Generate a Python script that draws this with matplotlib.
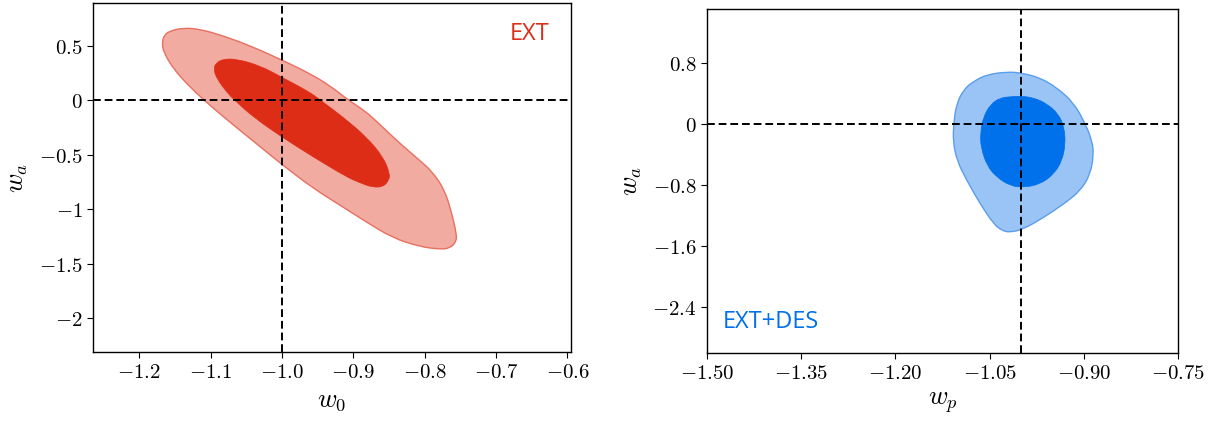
import matplotlib
matplotlib.use("Agg")
import numpy as np
import matplotlib.pyplot as plt
from matplotlib.path import Path
from matplotlib.patches import PathPatch
from matplotlib.ticker import FuncFormatter, FixedLocator

plt.rcParams['mathtext.fontset'] = 'cm'

# EXT contours (w0, wa)
ext_outer_w0 = [-1.1683, -1.1650, -1.1566, -1.1385, -1.1147, -1.0825, -1.0448, -1.0000, -0.9608,
                -0.9329, -0.9077, -0.8825, -0.8629, -0.8350, -0.8070, -0.7888, -0.7720, -0.7622,
                -0.7557, -0.7557, -0.7650, -0.7790, -0.8070, -0.8448, -0.8839, -0.9189, -0.9566,
                -1.0000, -1.0364, -1.0727, -1.1101, -1.1333, -1.1520, -1.1660]
ext_outer_wa = [0.528, 0.598, 0.635, 0.662, 0.650, 0.589, 0.498, 0.367, 0.242,
                0.132, 0.002, -0.105, -0.224, -0.397, -0.553, -0.662, -0.826, -1.037,
                -1.222, -1.299, -1.359, -1.368, -1.344, -1.265, -1.110, -0.963, -0.808,
                -0.592, -0.397, -0.205, 0.002, 0.148, 0.285, 0.437]
ext_inner_w0 = [-1.0961, -1.0923, -1.0821, -1.0634, -1.0308, -1.0000, -0.9608, -0.9469,
                -0.9143, -0.8815, -0.8583, -0.8490, -0.8503, -0.8583, -0.8741, -0.8909,
                -0.9095, -0.9562, -1.0000, -1.0401, -1.0671, -1.0773, -1.0913]
ext_inner_wa = [0.285, 0.342, 0.376, 0.376, 0.315, 0.208, 0.071, 0.002,
                -0.157, -0.340, -0.522, -0.674, -0.735, -0.796, -0.799, -0.758,
                -0.705, -0.522, -0.340, -0.157, 0.002, 0.071, 0.194]

# EXT+DES contours (wp, wa)
des_outer_wp = [-1.0913, -1.0754, -1.0541, -1.0223, -1.0000, -0.9692, -0.9427, -0.9161, -0.8976,
                -0.8869, -0.8843, -0.8896, -0.9055, -0.9321, -0.9639, -0.9958, -1.0170, -1.0303,
                -1.0435, -1.0648, -1.0860, -1.1019, -1.1083, -1.1072, -1.1030]
des_outer_wa = [0.448, 0.556, 0.643, 0.678, 0.665, 0.600, 0.469, 0.274, 0.000,
                -0.226, -0.400, -0.661, -0.878, -1.052, -1.226, -1.378, -1.421, -1.399,
                -1.312, -1.052, -0.748, -0.487, -0.226, 0.000, 0.252]
des_inner_wp = [-1.0329, -1.0170, -1.0000, -0.9798, -0.9586, -0.9400, -0.9310, -0.9294, -0.9347,
                -0.9480, -0.9692, -0.9958, -1.0170, -1.0382, -1.0541, -1.0637, -1.0648, -1.0605,
                -1.0488]
des_inner_wa = [0.339, 0.352, 0.361, 0.339, 0.261, 0.122, -0.052, -0.269, -0.487,
                -0.661, -0.791, -0.834, -0.813, -0.704, -0.552, -0.313, -0.139, 0.078,
                0.252]

left_xticks = [-1.2, -1.1, -1.0, -0.9, -0.8, -0.7, -0.6]
left_yticks = [0.5, 0, -0.5, -1, -1.5, -2]
right_xticks = [-1.50, -1.35, -1.20, -1.05, -0.90, -0.75]
right_yticks = [0.8, 0, -0.8, -1.6, -2.4]

red_dark = '#dd2d16'
red_light = '#f1aba1'
red_edge = '#e8705f'
blue_dark = '#0070eb'
blue_light = '#9ac4f6'
blue_edge = '#5a9eea'


def fmt(f):
    return FuncFormatter(lambda v, p: '$' + (f % v) + '$')


def smooth_patch(ax, xs, ys, **kw):
    # closed quadratic-bezier path using the read points as control points
    p = np.column_stack([xs, ys])
    mid = (p + np.roll(p, -1, axis=0)) / 2
    verts = [mid[-1]]
    codes = [Path.MOVETO]
    for i in range(len(p)):
        verts += [p[i], mid[i]]
        codes += [Path.CURVE3, Path.CURVE3]
    verts.append(mid[-1])
    codes.append(Path.CLOSEPOLY)
    ax.add_patch(PathPatch(Path(verts, codes), **kw))


fig = plt.figure(figsize=(12.22, 4.30), dpi=100)
ax1 = fig.add_axes([0.0761, 0.1814, 0.3912, 0.8116])
ax2 = fig.add_axes([0.5786, 0.1790, 0.3854, 0.8000])

smooth_patch(ax1, ext_outer_w0, ext_outer_wa, facecolor=red_light, edgecolor=red_edge, lw=1.0, zorder=1)
smooth_patch(ax1, ext_inner_w0, ext_inner_wa, facecolor=red_dark, edgecolor=red_dark, lw=0.5, zorder=2)
smooth_patch(ax2, des_outer_wp, des_outer_wa, facecolor=blue_light, edgecolor=blue_edge, lw=1.0, zorder=1)
smooth_patch(ax2, des_inner_wp, des_inner_wa, facecolor=blue_dark, edgecolor=blue_dark, lw=0.5, zorder=2)

for ax in (ax1, ax2):
    ax.axvline(-1.0, color='k', ls=(0, (4, 2)), lw=1.4, zorder=3)
    ax.axhline(0.0, color='k', ls=(0, (4, 2)), lw=1.4, zorder=3)
    ax.tick_params(direction='out', length=4, width=0.8, labelsize=15)
    for s in ax.spines.values():
        s.set_linewidth(1.0)

ax1.set_xlim(-1.265, -0.595)
ax1.set_ylim(-2.31, 0.89)
ax1.xaxis.set_major_locator(FixedLocator(left_xticks))
ax1.yaxis.set_major_locator(FixedLocator(left_yticks))
ax1.xaxis.set_major_formatter(fmt('%.1f'))
ax1.yaxis.set_major_formatter(fmt('%g'))
ax1.set_xlabel(r'$w_0$', fontsize=19, labelpad=3)
ax1.set_ylabel(r'$w_a$', fontsize=19, labelpad=6)
ax1.text(0.955, 0.91, 'EXT', transform=ax1.transAxes, ha='right', va='center',
         color=red_dark, fontsize=17, family='Open Sans')

ax2.set_xlim(-1.5, -0.75)
ax2.set_ylim(-3.0, 1.5)
ax2.xaxis.set_major_locator(FixedLocator(right_xticks))
ax2.yaxis.set_major_locator(FixedLocator(right_yticks))
ax2.xaxis.set_major_formatter(fmt('%.2f'))
ax2.yaxis.set_major_formatter(fmt('%g'))
ax2.set_xlabel(r'$w_p$', fontsize=19, labelpad=4)
ax2.set_ylabel(r'$w_a$', fontsize=19, labelpad=6)
ax2.text(0.034, 0.09, 'EXT+DES', transform=ax2.transAxes, ha='left', va='center',
         color=blue_dark, fontsize=17, family='Open Sans')

fig.savefig('out.png', dpi=100)
